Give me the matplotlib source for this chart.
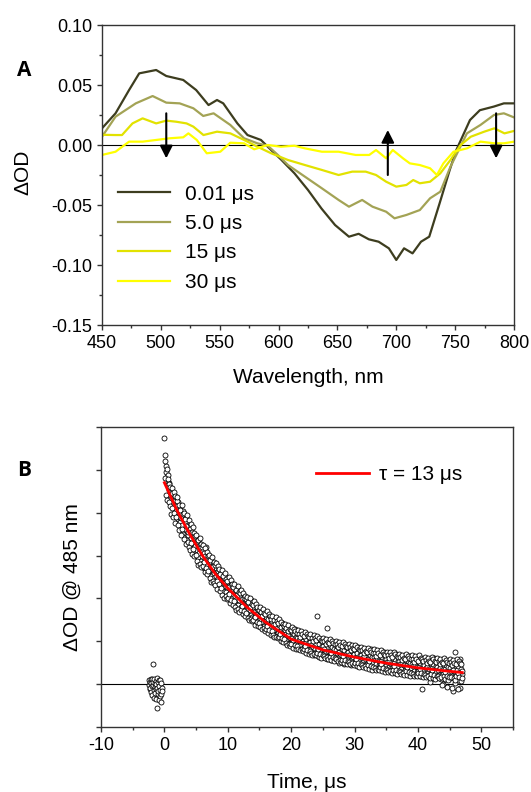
import numpy as np
import matplotlib
matplotlib.use('Agg')
import matplotlib.pyplot as plt
from matplotlib.ticker import MultipleLocator, NullFormatter

plt.rcParams['font.family'] = ['Liberation Sans', 'DejaVu Sans']
plt.rcParams['axes.unicode_minus'] = False

# ---- panel A : transient spectra ----
wl_a = [450, 461.5, 473, 481.6, 496, 504.6, 519, 530, 540.5, 547.7, 553, 565, 573.6, 585,
        593.7, 602, 613.5, 625, 636.5, 648, 659.8, 668, 676.7, 685, 693.7, 700, 706.6,
        713.8, 721, 728, 736.8, 745.4, 751, 762.6, 771, 782.8, 791.4, 800]
od_a = [0.0139, 0.0264, 0.0458, 0.0597, 0.0625, 0.0575, 0.0542, 0.0458, 0.0333, 0.0375,
        0.0347, 0.018, 0.0083, 0.0042, -0.0042, -0.012, -0.0236, -0.0375, -0.053, -0.0667,
        -0.0764, -0.074, -0.0786, -0.0806, -0.0861, -0.0958, -0.0861, -0.0903, -0.0806,
        -0.0764, -0.0486, -0.0208, -0.0042, 0.0208, 0.029, 0.032, 0.0347, 0.0347]

wl_b = [450, 461.5, 478.7, 493, 504.6, 516, 527.6, 536, 544.8, 559, 570.7, 582, 590.8, 599.4,
        608, 622.4, 636.8, 651, 659.8, 671, 679.8, 691.4, 698.5, 708.6, 720, 728.7, 737.4,
        746, 751.7, 760, 771.5, 783, 791.4, 800]
od_b = [0.0069, 0.0236, 0.0347, 0.0408, 0.0353, 0.0347, 0.0306, 0.0242, 0.0264, 0.0167,
        0.0056, 0.0014, -0.0006, -0.0083, -0.0167, -0.0264, -0.0361, -0.0458, -0.0514,
        -0.0458, -0.0514, -0.0556, -0.0611, -0.0583, -0.0542, -0.0444, -0.0389, -0.0181,
        -0.0069, 0.0097, 0.0167, 0.025, 0.0264, 0.023]

wl_c = [450, 461.5, 467, 475.9, 484.5, 496, 504.6, 513, 521.8, 527.6, 536.2, 547.7, 559,
        570.7, 582, 593.7, 608, 622.4, 636.8, 651, 662.6, 674, 682.8, 691.4, 700, 708.6,
        714.4, 720, 728.7, 737.4, 746, 754.6, 763.3, 774.7, 783.3, 791.9, 800]
od_c = [0.0085, 0.0083, 0.0083, 0.018, 0.0222, 0.018, 0.0203, 0.0194, 0.018, 0.0153,
        0.0083, 0.0111, 0.0097, 0.0042, -0.0014, -0.0069, -0.0125, -0.0167, -0.0208,
        -0.025, -0.0222, -0.0222, -0.025, -0.0306, -0.0347, -0.0333, -0.0292, -0.0319,
        -0.0306, -0.0236, -0.0125, 0.0, 0.0069, 0.0111, 0.0139, 0.0097, 0.0117]

wl_d = [450, 461.5, 473, 484.5, 496, 507.5, 519, 523.4, 530.5, 539, 550.5, 559, 570.7,
        579.3, 590.8, 602, 613.5, 622.4, 636.8, 651, 665.5, 677, 682.8, 691.4, 697, 705.7,
        711.5, 720, 728.7, 734.5, 740, 748.6, 760, 771.5, 783.3, 791.4, 800]
od_d = [-0.0083, -0.0056, 0.0028, 0.0028, 0.0042, 0.0056, 0.0064, 0.0097, 0.0042, -0.0069,
        -0.0056, 0.0019, 0.0014, -0.0036, 0.0, -0.0014, -0.0006, -0.0028, -0.0056, -0.0056,
        -0.0083, -0.0083, -0.0042, -0.0111, -0.0042, -0.0111, -0.0153, -0.0167, -0.0194,
        -0.025, -0.0153, -0.0056, -0.0028, 0.0028, 0.0014, 0.0014, 0.0028]

spec_labels = ['0.01 \u03bcs', '5.0 \u03bcs', '15 \u03bcs', '30 \u03bcs']
spec_colors = ['#3d3d1f', '#a3a355', '#e2e200', '#ffff00']

# arrows: wavelength, tail, tip
arrow_wl = [504.6, 692.8, 784.8]
arrow_tail = [0.0264, -0.025, 0.0264]
arrow_tip = [-0.0111, 0.0125, -0.0111]

# ---- panel B : kinetic trace at 485 nm (values in 1e-3 OD) ----
pre_t = np.round(np.arange(-2.40, -0.39, 0.05), 2)
pre_y = [-0.2, 0.9, -1.1, 0.4, -0.8, 1.3, -1.9, 0.2, -0.5, 1.1, -2.6, 4.7, -0.3, 0.6,
         -1.4, -3.2, 1.2, -0.7, 0.3, -2.0, 0.8, -1.1, -3.5, 0.1, -5.5, 1.5, -0.9, -2.3,
         0.5, -1.6, -3.8, 0.9, -0.4, -2.7, 1.0, -1.3, -4.1, 0.2, -2.2, -0.8, -1.5]

# samples on the 0.1 us grid
post_t = np.round(np.arange(0, 47.05, 0.1), 1)
post_y = [
    57.4, 53.5, 50.9, 49.6, 48.4, 47.1, 48.8, 45.2, 46.9, 44.1,
    45.8, 42.1, 44.6, 41.3, 43.0, 39.8, 42.9, 40.2, 43.7, 40.9,
    41.7, 38.6, 42.4, 39.0, 37.8, 40.9, 36.9, 39.8, 37.2, 40.3,
    35.1, 38.9, 36.2, 34.4, 37.8, 35.0, 33.6, 37.2, 34.9, 36.8,
    33.2, 36.1, 34.0, 31.8, 35.4, 32.6, 34.8, 31.1, 33.9, 32.2,
    30.1, 33.8, 31.2, 29.6, 33.0, 30.5, 32.4, 28.7, 31.6, 29.9,
    31.4, 28.2, 30.6, 27.1, 29.8, 31.9, 27.8, 29.2, 26.9, 30.1,
    26.4, 29.3, 27.0, 25.2, 28.6, 26.8, 24.7, 27.9, 25.9, 28.1,
    24.1, 27.2, 25.3, 23.4, 26.4, 24.8, 22.9, 26.6, 24.0, 25.5,
    22.1, 25.6, 23.4, 21.7, 24.8, 23.0, 25.2, 21.4, 23.8, 22.6,
    23.9, 20.8, 22.6, 24.1, 21.2, 19.9, 22.9, 20.4, 23.3, 21.0,
    19.2, 22.3, 20.5, 18.8, 21.7, 20.1, 18.4, 21.9, 19.6, 20.8,
    20.6, 17.9, 19.8, 21.2, 18.3, 17.1, 20.0, 18.7, 16.9, 19.5,
    16.7, 19.4, 17.5, 15.9, 18.8, 17.2, 19.6, 16.1, 18.0, 15.6,
    17.9, 15.4, 16.8, 18.5, 15.0, 16.3, 14.6, 17.4, 15.8, 14.2,
    14.9, 17.1, 15.3, 13.8, 16.6, 14.4, 17.3, 13.5, 15.9, 14.7,
    13.1, 15.7, 14.2, 12.6, 15.1, 13.9, 12.4, 15.8, 13.3, 14.6,
    14.5, 12.2, 13.7, 11.8, 14.9, 12.9, 11.5, 14.1, 13.0, 11.9,
    11.3, 13.8, 12.5, 10.7, 13.4, 11.9, 14.2, 10.9, 12.8, 11.6,
    12.6, 10.3, 11.8, 13.3, 10.1, 11.4, 9.7, 12.5, 10.8, 9.9,
    9.6, 12.1, 10.7, 8.9, 11.6, 10.2, 12.9, 9.3, 11.0, 8.7,
    10.8, 8.6, 10.3, 12.0, 9.1, 8.2, 11.4, 9.8, 8.0, 10.6,
    8.4, 10.9, 9.5, 7.6, 10.6, 8.8, 11.3, 7.9, 9.9, 8.1,
    9.8, 7.4, 9.1, 10.7, 7.8, 8.6, 6.9, 10.2, 8.3, 7.5,
    7.2, 15.8, 8.5, 6.6, 9.4, 8.0, 10.2, 7.0, 8.8, 6.8,
    8.9, 6.4, 8.1, 9.8, 6.9, 7.5, 5.9, 13.2, 7.7, 6.2,
    6.6, 9.2, 7.8, 5.7, 8.7, 7.1, 9.6, 6.0, 8.2, 6.9,
    7.9, 5.6, 7.2, 8.9, 6.1, 7.6, 4.9, 8.4, 6.8, 5.3,
    5.8, 8.3, 6.7, 4.8, 7.9, 6.2, 8.7, 5.1, 7.3, 6.0,
    7.4, 5.2, 6.8, 8.5, 5.6, 4.5, 7.7, 6.3, 4.9, 7.1,
    5.3, 7.9, 6.4, 4.4, 7.3, 5.8, 8.6, 4.7, 6.7, 5.5,
    6.9, 4.6, 6.2, 8.0, 5.1, 6.6, 4.2, 7.4, 5.7, 4.9,
    4.8, 7.3, 5.9, 3.9, 6.8, 5.2, 8.1, 4.3, 6.3, 5.0,
    6.4, 4.1, 5.6, 7.5, 4.6, 6.0, 3.6, 7.0, 5.3, 4.4,
    4.3, 6.9, 5.5, 3.4, 6.3, 4.7, 7.6, 3.8, 5.9, 4.5,
    5.8, 3.6, 5.1, 6.8, 4.0, 5.4, 3.1, 6.5, 4.8, 3.9,
    3.9, 6.4, 5.0, 2.9, 5.9, 4.3, 7.0, 3.3, 5.4, 4.1,
    5.3, 3.1, 4.7, 6.3, 3.5, 4.9, 2.6, 6.0, 4.4, 3.4,
    3.4, 5.9, 4.5, 2.4, 5.4, 3.8, 6.6, 2.9, 4.9, 3.7,
    4.8, 2.7, 4.2, 5.9, 3.0, 4.4, 2.2, 5.6, 3.9, 2.9,
    3.0, 5.5, 4.1, 1.9, 5.0, 3.4, -1.2, 2.5, 4.5, 3.3,
    4.4, 2.3, 3.8, 5.6, 2.6, 4.0, 1.8, 5.2, 3.5, 0.4,
    2.7, 5.2, 3.8, 1.6, 4.7, 3.1, 6.0, 2.0, 4.2, 2.9,
    4.0, 1.9, 3.4, 5.3, 2.2, 3.7, 1.3, 4.9, 3.2, 0.1,
    2.4, 4.9, 3.5, 1.2, 4.4, 2.8, -0.6, 1.7, 3.9, 2.6,
    3.7, 1.5, 3.1, 5.1, 1.9, 3.4, -1.7, 4.6, 7.4, 0.2,
    2.2, 4.7, 3.3, 0.9, 4.2, 2.6, 5.8, -0.9, 3.6, 2.4,
    3.1]

# samples in between (0.05 us offset)
mid_t = np.round(np.arange(0.05, 47.0, 0.1), 2)
mid_y = [
    52.0, 48.1, 44.2, 50.3, 43.0, 47.9, 42.4, 46.6, 41.5, 45.9,
    39.8, 45.7, 41.2, 38.9, 44.8, 40.0, 37.6, 43.9, 39.1, 42.8,
    43.6, 37.2, 41.8, 35.9, 40.6, 38.7, 34.8, 41.9, 36.3, 39.6,
    39.9, 33.8, 38.6, 32.7, 36.9, 39.4, 33.1, 35.6, 38.2, 32.0,
    31.2, 37.4, 32.9, 30.4, 36.7, 31.5, 35.3, 29.8, 34.6, 30.1,
    34.9, 28.7, 33.6, 27.9, 31.8, 34.2, 28.1, 32.7, 27.4, 31.9,
    27.6, 32.4, 28.4, 26.2, 31.7, 27.0, 30.8, 25.6, 29.9, 26.4,
    30.2, 24.8, 28.9, 23.9, 27.3, 29.6, 24.1, 28.4, 23.5, 27.8,
    23.2, 28.3, 24.0, 22.1, 27.5, 23.3, 26.9, 21.7, 25.8, 22.5,
    26.6, 20.9, 25.3, 20.2, 23.7, 26.0, 20.6, 24.6, 19.8, 24.1,
    20.1, 24.9, 21.0, 18.9, 24.2, 19.7, 23.4, 18.5, 22.7, 19.4,
    23.3, 17.9, 22.0, 17.2, 20.8, 22.9, 17.5, 21.6, 16.9, 21.2,
    17.4, 21.9, 18.3, 16.3, 21.2, 17.0, 20.6, 15.8, 19.9, 16.6,
    20.4, 15.5, 19.2, 14.9, 18.1, 20.0, 15.2, 18.8, 14.7, 18.5,
    14.9, 19.3, 15.7, 13.9, 18.6, 14.6, 18.1, 13.5, 17.4, 14.3,
    17.9, 13.3, 16.9, 12.8, 15.9, 17.6, 13.0, 16.6, 12.5, 16.3,
    12.8, 17.0, 13.6, 11.9, 16.4, 12.6, 15.9, 11.5, 15.3, 12.3,
    15.9, 11.4, 14.9, 10.9, 14.0, 15.6, 11.1, 14.7, 10.7, 14.3,
    10.9, 15.1, 11.7, 10.1, 14.5, 10.8, 14.0, 9.8, 13.5, 10.5,
    14.0, 9.6, 13.1, 9.2, 12.3, 13.8, 9.4, 12.9, 9.0, 12.6,
    9.3, 13.4, 10.2, 8.5, 12.9, 9.2, 12.5, 8.3, 12.0, 9.0,
    12.6, 8.3, 11.7, 7.9, 11.0, 12.4, 8.1, 11.6, 7.7, 11.3,
    8.1, 12.2, 9.0, 7.3, 11.7, 8.0, 11.3, 7.1, 10.9, 7.8,
    11.6, 7.3, 10.8, 6.9, 10.1, 11.4, 7.1, 10.7, 6.7, 10.4,
    7.2, 11.3, 8.1, 6.4, 10.8, 7.1, 10.4, 6.2, 10.0, 6.9,
    10.8, 6.5, 10.0, 6.1, 9.3, 10.6, 6.3, 9.9, 5.9, 9.6,
    6.4, 10.5, 7.3, 5.6, 10.0, 6.3, 9.6, 5.4, 9.3, 6.1,
    10.1, 5.8, 9.3, 5.4, 8.6, 9.9, 5.6, 9.2, 5.2, 8.9,
    5.7, 9.8, 6.6, 4.9, 9.3, 5.6, 8.9, 4.7, 8.6, 5.4,
    9.4, 5.1, 8.6, 4.7, 7.9, 9.2, 4.9, 8.5, 4.5, 8.2,
    5.0, 9.1, 5.9, 4.2, 8.6, 4.9, 8.2, 4.0, 7.9, 4.7,
    8.7, 4.4, 7.9, 4.0, 7.2, 8.5, 4.2, 7.8, 3.8, 7.5,
    4.4, 8.5, 5.3, 3.6, 8.0, 4.3, 7.6, 3.4, 7.3, 4.1,
    8.1, 3.8, 7.3, 3.4, 6.6, 7.9, 3.6, 7.2, 3.2, 6.9,
    3.9, 8.0, 4.8, 3.1, 7.5, 3.8, 7.1, 2.9, 6.8, 3.6,
    7.6, 3.3, 6.8, 2.9, 6.1, 7.4, 3.1, 6.7, 2.7, 6.4,
    3.4, 7.5, 4.3, 2.6, 7.0, 3.3, 6.6, 2.4, 6.3, 3.1,
    7.1, 2.8, 6.3, 2.4, 5.6, 6.9, 2.6, 6.2, 2.2, 5.9,
    3.0, 7.1, 3.9, 2.2, 6.6, 2.9, 6.2, 2.0, 5.9, 2.7,
    6.7, 2.4, 5.9, 2.0, 5.2, 6.5, 2.2, 5.8, 1.8, 5.5,
    2.6, 6.7, 3.5, 1.8, 6.2, 2.5, 5.8, 1.6, 5.5, 2.3,
    6.4, 2.1, 5.6, 1.7, 4.9, 6.2, 1.9, 5.5, 1.5, 5.2,
    2.3, 6.4, 3.2, 1.5, 5.9, 2.2, 5.5, 1.3, 5.2, 2.0,
    6.1, 1.8, 5.3, 1.4, 4.6, 5.9, 1.6, 5.2, -0.3, 4.9,
    2.0, 6.1, 2.9, 1.2, 5.6, 1.9, 5.2, 1.0, 4.9, 1.7,
    5.9, 1.6, 5.1, -0.8, 4.4, 5.7, 1.4, 5.0, 1.0, 4.7,
    1.8, 5.9, 2.7, -1.2, 5.4, 1.7, 5.0, 0.8, 4.7, 1.5]

fit_t = [0, 2, 4, 6, 8, 10, 13, 16, 20, 25, 30, 35, 40, 45, 47]
fit_y = [47.0, 40.5, 35.0, 30.0, 25.8, 22.4, 18.0, 14.4, 10.5, 8.0, 6.3, 4.9, 3.8, 3.0, 2.7]

fig = plt.figure(figsize=(5.31, 7.92), dpi=100)
axA = fig.add_axes([102 / 531, 1 - 325 / 792, 412 / 531, 300 / 792])
axB = fig.add_axes([101 / 531, 1 - 727 / 792, 412 / 531, 300 / 792])

for ax in (axA, axB):
    for s in ax.spines.values():
        s.set_color('#333333')
        s.set_linewidth(1.0)
    ax.tick_params(which='both', direction='out', top=False, right=False,
                   color='#333333', labelsize=13, pad=3.5)
    ax.tick_params(which='major', length=3.5, width=1.0)
    ax.tick_params(which='minor', length=2.0, width=1.0)

# panel A
axA.axhline(0, color='black', lw=0.8, zorder=1)
for wl, od, lab, col in zip([wl_a, wl_b, wl_c, wl_d], [od_a, od_b, od_c, od_d],
                            spec_labels, spec_colors):
    axA.plot(wl, od, color=col, lw=1.6, label=lab, zorder=2)
for x, y0, y1 in zip(arrow_wl, arrow_tail, arrow_tip):
    axA.annotate('', xy=(x, y1), xytext=(x, y0),
                 arrowprops=dict(arrowstyle='-|>,head_length=0.75,head_width=0.38',
                                 color='black', lw=1.5, shrinkA=0, shrinkB=0,
                                 mutation_scale=10), zorder=3)
axA.set_xlim(450, 800)
axA.set_ylim(-0.15, 0.10)
axA.xaxis.set_major_locator(MultipleLocator(50))
axA.xaxis.set_minor_locator(MultipleLocator(25))
axA.yaxis.set_major_locator(MultipleLocator(0.05))
axA.yaxis.set_minor_locator(MultipleLocator(0.025))
axA.yaxis.set_major_formatter(plt.FormatStrFormatter('%.2f'))
axA.legend(loc='upper left', bbox_to_anchor=(0.039, 0.468), frameon=False,
           fontsize=15, handlelength=2.5, handletextpad=0.7, labelspacing=0.5,
           borderpad=0, borderaxespad=0)
axA.set_xlabel('Wavelength, nm', fontsize=15, labelpad=12)
fig.text(23 / 531, 1 - 172 / 792, '\u0394OD', rotation=90, fontsize=15,
         ha='center', va='center')
fig.text(24 / 531, 1 - 70 / 792, 'A', fontsize=15, fontweight='bold',
         family=['Open Sans', 'DejaVu Sans'], ha='center', va='center')

# panel B
axB.axhline(0, color='black', lw=0.8, zorder=1)
for tt, yy in ((pre_t, pre_y), (post_t, post_y), (mid_t, mid_y)):
    axB.plot(tt, yy, 'o', ms=3.6, mfc='white', mec='black', mew=0.6, zorder=2)
axB.plot(fit_t, fit_y, color='red', lw=2.0, zorder=3, label='\u03c4 = 13 \u03bcs')
axB.set_xlim(-10, 55)
axB.set_ylim(-10, 60)
axB.xaxis.set_major_locator(MultipleLocator(10))
axB.xaxis.set_minor_locator(MultipleLocator(5))
axB.yaxis.set_major_locator(MultipleLocator(10))
axB.yaxis.set_major_formatter(NullFormatter())
axB.legend(loc='upper left', bbox_to_anchor=(0.523, 0.872), frameon=False,
           fontsize=15, handlelength=2.5, handletextpad=0.5,
           borderpad=0, borderaxespad=0)
axB.set_xlabel('Time, \u03bcs', fontsize=15, labelpad=14)
fig.text(72 / 531, 1 - 577 / 792, '\u0394OD @ 485 nm', rotation=90, fontsize=15,
         ha='center', va='center')
fig.text(24 / 531, 1 - 471 / 792, 'B', fontsize=15, fontweight='bold',
         family=['Open Sans', 'DejaVu Sans'], ha='center', va='center')

fig.savefig('out.png', dpi=100)
